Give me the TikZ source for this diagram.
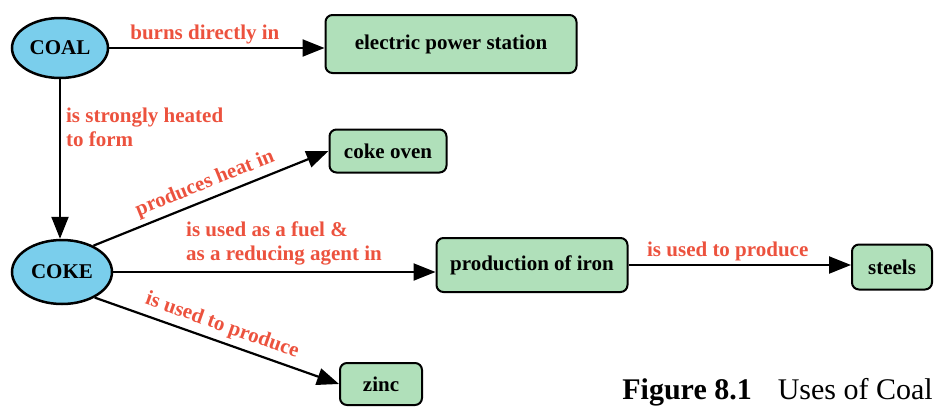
\documentclass[tikz,border=0pt]{standalone}
\usepackage{fontspec}
\setmainfont{Liberation Serif}
\usetikzlibrary{arrows.meta,positioning,shapes.geometric}

\definecolor{boxgreen}{RGB}{176,224,186}
\definecolor{fuelblue}{RGB}{122,206,236}
\definecolor{labelred}{RGB}{236,82,62}

\begin{document}
\begin{tikzpicture}[x=1pt,y=-1pt,
    >={Triangle[length=22pt,width=17pt]},
    every node/.style={font=\fontsize{21}{24}\selectfont\bfseries},
    fuel/.style={ellipse,draw,line width=2.5pt,fill=fuelblue,inner sep=0pt},
    use/.style={rectangle,rounded corners=7pt,draw,line width=2pt,fill=boxgreen,inner sep=0pt},
    link/.style={text=labelred,inner sep=3pt}]
    \useasboundingbox (0,0) rectangle (934,407);

    \node[fuel,minimum width=96pt,minimum height=60pt] (C) at (60,48) {COAL};
    \node[fuel,minimum width=100pt,minimum height=64pt] (K) at (62,272) {COKE};

    \node[use,minimum width=251pt,minimum height=58pt] (E) at (451,44) {electric power station};
    \node[use,minimum width=117pt,minimum height=43pt] (O) at (388,151) {coke oven};
    \node[use,minimum width=191pt,minimum height=54pt] (I) at (532,265) {production of iron};
    \node[use,minimum width=80pt,minimum height=45pt] (S) at (892,267) {steels};
    \node[use,minimum width=82pt,minimum height=42pt] (Z) at (381,384) {zinc};

    \draw[line width=2.2pt,->] (C.east) -- (C.east -| E.west) node[midway,above,link,xshift=-12pt] {burns directly in};
    \draw[line width=2.2pt,->] (C.south) -- (C.south |- K.north) node[pos=0.3,right,link,align=left,xshift=2pt] {is strongly heated\\to form};

    \draw[line width=2.2pt,->] (K.40) -- (O.west) node[midway,sloped,above,link,inner sep=5pt] {produces heat in};
    \draw[line width=2.2pt,->] (K.east) -- (K.east -| I.west) node[pos=0.53,above,link,align=left,yshift=3pt] {is used as a fuel \&\\as a reducing agent in};
    \draw[line width=2.2pt,->] (K.-38) -- (Z.west) node[midway,sloped,above,link,inner sep=5pt] {is used to produce};

    \draw[line width=2.2pt,->] (I.east) -- (I.east -| S.west) node[midway,above,link,xshift=-12pt] {is used to produce};

    \node[anchor=base east,font=\fontsize{30}{34}\selectfont,inner sep=0pt] (F) at (933,399) {\textbf{Figure 8.1}\hspace{26pt}Uses of Coal};
\end{tikzpicture}
\end{document}
